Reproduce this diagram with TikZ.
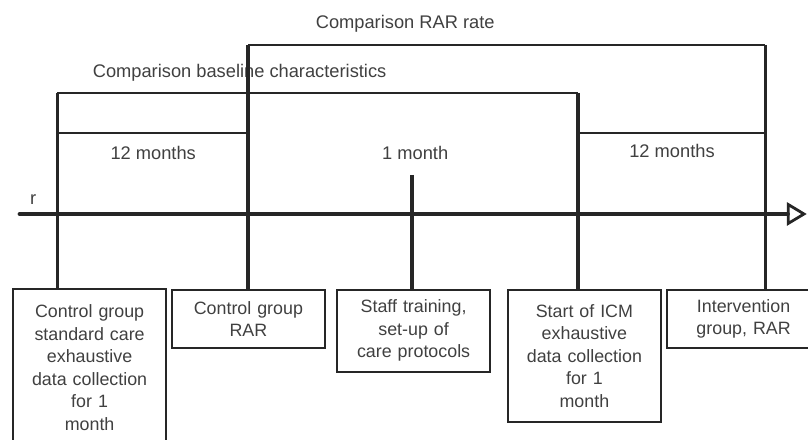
\documentclass[tikz,border=0pt]{standalone}
\usepackage{fontspec}
\setmainfont{Liberation Sans}
\usetikzlibrary{positioning,arrows.meta}

\begin{document}
\begin{tikzpicture}[thick,
                       stage/.style={draw=black!85,line width=1.4pt,anchor=north,align=center,
                                     minimum width=3.83cm,text width=3.5cm,inner sep=2pt,
                                     text=black!75,font=\fontsize{12.7}{16}\selectfont},
                       lbl/.style={text=black!75,font=\fontsize{13}{16}\selectfont},
                       bracket/.style={draw=black!85,line width=1.5pt},
                       drop/.style={draw=black!85,line width=2.2pt}
                      ]
  \clip (0,0) rectangle (20.20,11.00);

  \coordinate (bl) at (1.43,8.68);
  \coordinate (br) at (14.45,8.68);
  \coordinate (rl) at (6.20,9.88);
  \coordinate (rr) at (19.13,9.88);
  \coordinate (ml) at (1.43,7.68);
  \coordinate (mr) at (6.20,7.68);
  \coordinate (nl) at (14.45,7.68);
  \coordinate (nr) at (19.13,7.68);
  \coordinate (tk) at (10.30,6.63);
  \coordinate (t0) at (0.50,5.65);
  \coordinate (t1) at (20.17,5.65);

  \node[lbl] (rar) at (10.13,10.40) {Comparison RAR rate};
  \node[lbl] (base) at (5.99,9.18) {Comparison baseline characteristics};
  \node[lbl] (m1) at (3.83,7.18) {12 months};
  \node[lbl] (m2) at (10.38,7.18) {1 month};
  \node[lbl] (m3) at (16.80,7.22) {12 months};
  \node[lbl] (r) at (0.83,6.02) {r};

  \node[stage,minimum height=3.93cm] (c1) at (2.24,3.80)
       {Control group\\standard care\\exhaustive\\data collection\\for 1\\month};
  \node[stage,minimum height=1.45cm] (c2) at (6.21,3.78) {Control group\\RAR};
  \node[stage,minimum height=2.05cm] (c3) at (10.34,3.78) {Staff training,\\set-up of\\care protocols};
  \node[stage,minimum height=3.30cm] (c4) at (14.61,3.78)
       {Start of ICM\\exhaustive\\data collection\\for 1\\month};
  \node[stage,minimum height=1.45cm] (c5) at (18.59,3.78) {Intervention\\group, RAR};

  \path[bracket]
      (bl) edge (br)
      (rl) edge (rr)
      (ml) edge (mr)
      (nl) edge (nr);

  \path[drop]
      (bl) edge (bl |- c1.north)
      (rl) edge (rl |- c2.north)
      (tk) edge (tk |- c3.north)
      (br) edge (br |- c4.north)
      (rr) edge (rr |- c5.north);

  \draw[draw=black!85,line width=3.5pt,line cap=round,
        -{Triangle[open,length=0.50cm,width=0.58cm,line width=2pt]}] (t0) -- (t1);
\end{tikzpicture}
\end{document}
